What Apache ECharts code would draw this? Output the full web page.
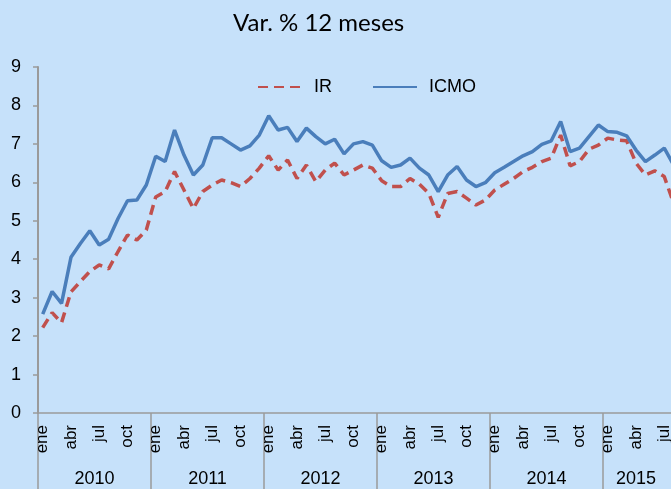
<!DOCTYPE html>
<html>
<head>
<meta charset="utf-8">
<script src="https://cdn.jsdelivr.net/npm/echarts@6/dist/echarts.min.js"></script>
<style>
  html, body { margin: 0; padding: 0; overflow: hidden; background: #c6e1fa; }
  #chart { width: 700px; height: 489px; }
</style>
</head>
<body>
<div id="chart"></div>
<script>
const monthNames = ['ene', 'feb', 'mar', 'abr', 'may', 'jun', 'jul', 'ago', 'sep', 'oct', 'nov', 'dic'];
const years = ['2010', '2011', '2012', '2013', '2014', '2015'];
// index of the month under which each year label sits
const yearLabelIdx = [6, 18, 30, 42, 54, 63];

const ir = [
  2.22, 2.61, 2.35, 3.15, 3.42, 3.68, 3.85, 3.75, 4.2, 4.63, 4.5, 4.76,
  5.62, 5.76, 6.28, 5.8, 5.32, 5.76, 5.93, 6.06, 5.99, 5.89, 6.1, 6.37,
  6.69, 6.32, 6.58, 6.1, 6.45, 6.02, 6.32, 6.5, 6.19, 6.32, 6.45, 6.37,
  6.04, 5.89, 5.89, 6.1, 5.95, 5.71, 5.09, 5.71, 5.76, 5.59, 5.41, 5.54,
  5.8, 5.95, 6.1, 6.28, 6.39, 6.54, 6.63, 7.23, 6.43, 6.54, 6.86, 6.97,
  7.15, 7.1, 7.08, 6.5, 6.19, 6.3, 6.15, 5.45
];
const icmo = [
  2.57, 3.16, 2.85, 4.05, 4.41, 4.74, 4.37, 4.52, 5.06, 5.52, 5.54, 5.93,
  6.68, 6.54, 7.36, 6.71, 6.19, 6.45, 7.16, 7.16, 7.0, 6.84, 6.95, 7.23,
  7.73, 7.36, 7.43, 7.06, 7.41, 7.19, 7.0, 7.12, 6.74, 7.0, 7.06, 6.97,
  6.56, 6.39, 6.45, 6.63, 6.37, 6.19, 5.76, 6.19, 6.41, 6.06, 5.89, 5.99,
  6.25, 6.39, 6.54, 6.69, 6.8, 6.99, 7.08, 7.58, 6.8, 6.89, 7.19, 7.49,
  7.32, 7.3, 7.21, 6.84, 6.54, 6.71, 6.89, 6.45
];

const months = ir.map((v, i) => monthNames[i % 12]);

const axisGray = '#9a9a9a';
const font = "'Liberation Sans', Arial, sans-serif";

const myChart = echarts.init(document.getElementById('chart'));
myChart.setOption({
  backgroundColor: '#c6e1fa',
  animation: false,
  title: {
    text: 'Var. % 12 meses',
    left: 228,
    top: 6,
    textStyle: { fontFamily: 'Lato, sans-serif', fontSize: 24, fontWeight: 'normal', color: '#000' },
  },
  legend: {
    left: 252,
    top: 73,
    itemWidth: 44,
    itemHeight: 14,
    itemGap: 40,
    itemStyle: { opacity: 0 },
    textStyle: { fontFamily: font, fontSize: 18, color: '#000', padding: [0, 0, 0, 7] },
    data: ['IR', 'ICMO'],
  },
  grid: { left: 38, top: 67, right: 21.6, bottom: 76 },
  xAxis: [
    {
      type: 'category',
      data: months,
      boundaryGap: true,
      axisLine: { lineStyle: { color: axisGray, width: 1.5 } },
      axisTick: { show: false },
      axisLabel: {
        interval: (i) => i % 3 === 0,
        rotate: 90,
        margin: 12,
        fontFamily: font,
        fontSize: 17,
        color: '#000',
      },
    },
    {
      // year labels under the months
      type: 'category',
      data: months,
      position: 'bottom',
      boundaryGap: true,
      axisLine: { show: false },
      axisTick: { show: false },
      axisLabel: {
        interval: (i) => yearLabelIdx.includes(i),
        margin: 57,
        formatter: (v, i) => {
          const k = yearLabelIdx.indexOf(i);
          return k < years.length - 1 ? '{f|' + years[k] + '}' : '{p|' + years[k] + '}';
        },
        rich: {
          f: { fontFamily: font, fontSize: 18, color: '#000', padding: [0, 9.4, 0, 0] },
          p: { fontFamily: font, fontSize: 18, color: '#000' },
        },
      },
    },
    {
      // long separators between years
      type: 'value',
      position: 'bottom',
      min: 0,
      max: months.length,
      interval: 12,
      axisLine: { show: false },
      splitLine: { show: false },
      axisLabel: { show: false },
      axisTick: { show: true, length: 80, lineStyle: { color: axisGray, width: 1.5 } },
    },
  ],
  yAxis: {
    type: 'value',
    min: 0,
    max: 9,
    interval: 1,
    splitLine: { show: false },
    axisLine: { show: true, lineStyle: { color: axisGray, width: 2 } },
    axisTick: { show: true, length: 5, lineStyle: { color: axisGray, width: 1.5 } },
    axisLabel: { margin: 17, fontFamily: font, fontSize: 18, color: '#000' },
  },
  series: [
    { name: 'IR', data: ir, color: '#c0504d', lineStyle: { type: [10, 6], width: 3.5 } },
    { name: 'ICMO', data: icmo, color: '#4a7ebb', lineStyle: { type: 'solid', width: 3.5 } },
  ].map((s) => ({
    ...s,
    type: 'line',
    xAxisIndex: 0,
    symbol: 'none',
    lineStyle: { ...s.lineStyle, color: s.color },
  })),
});
</script>
</body>
</html>
